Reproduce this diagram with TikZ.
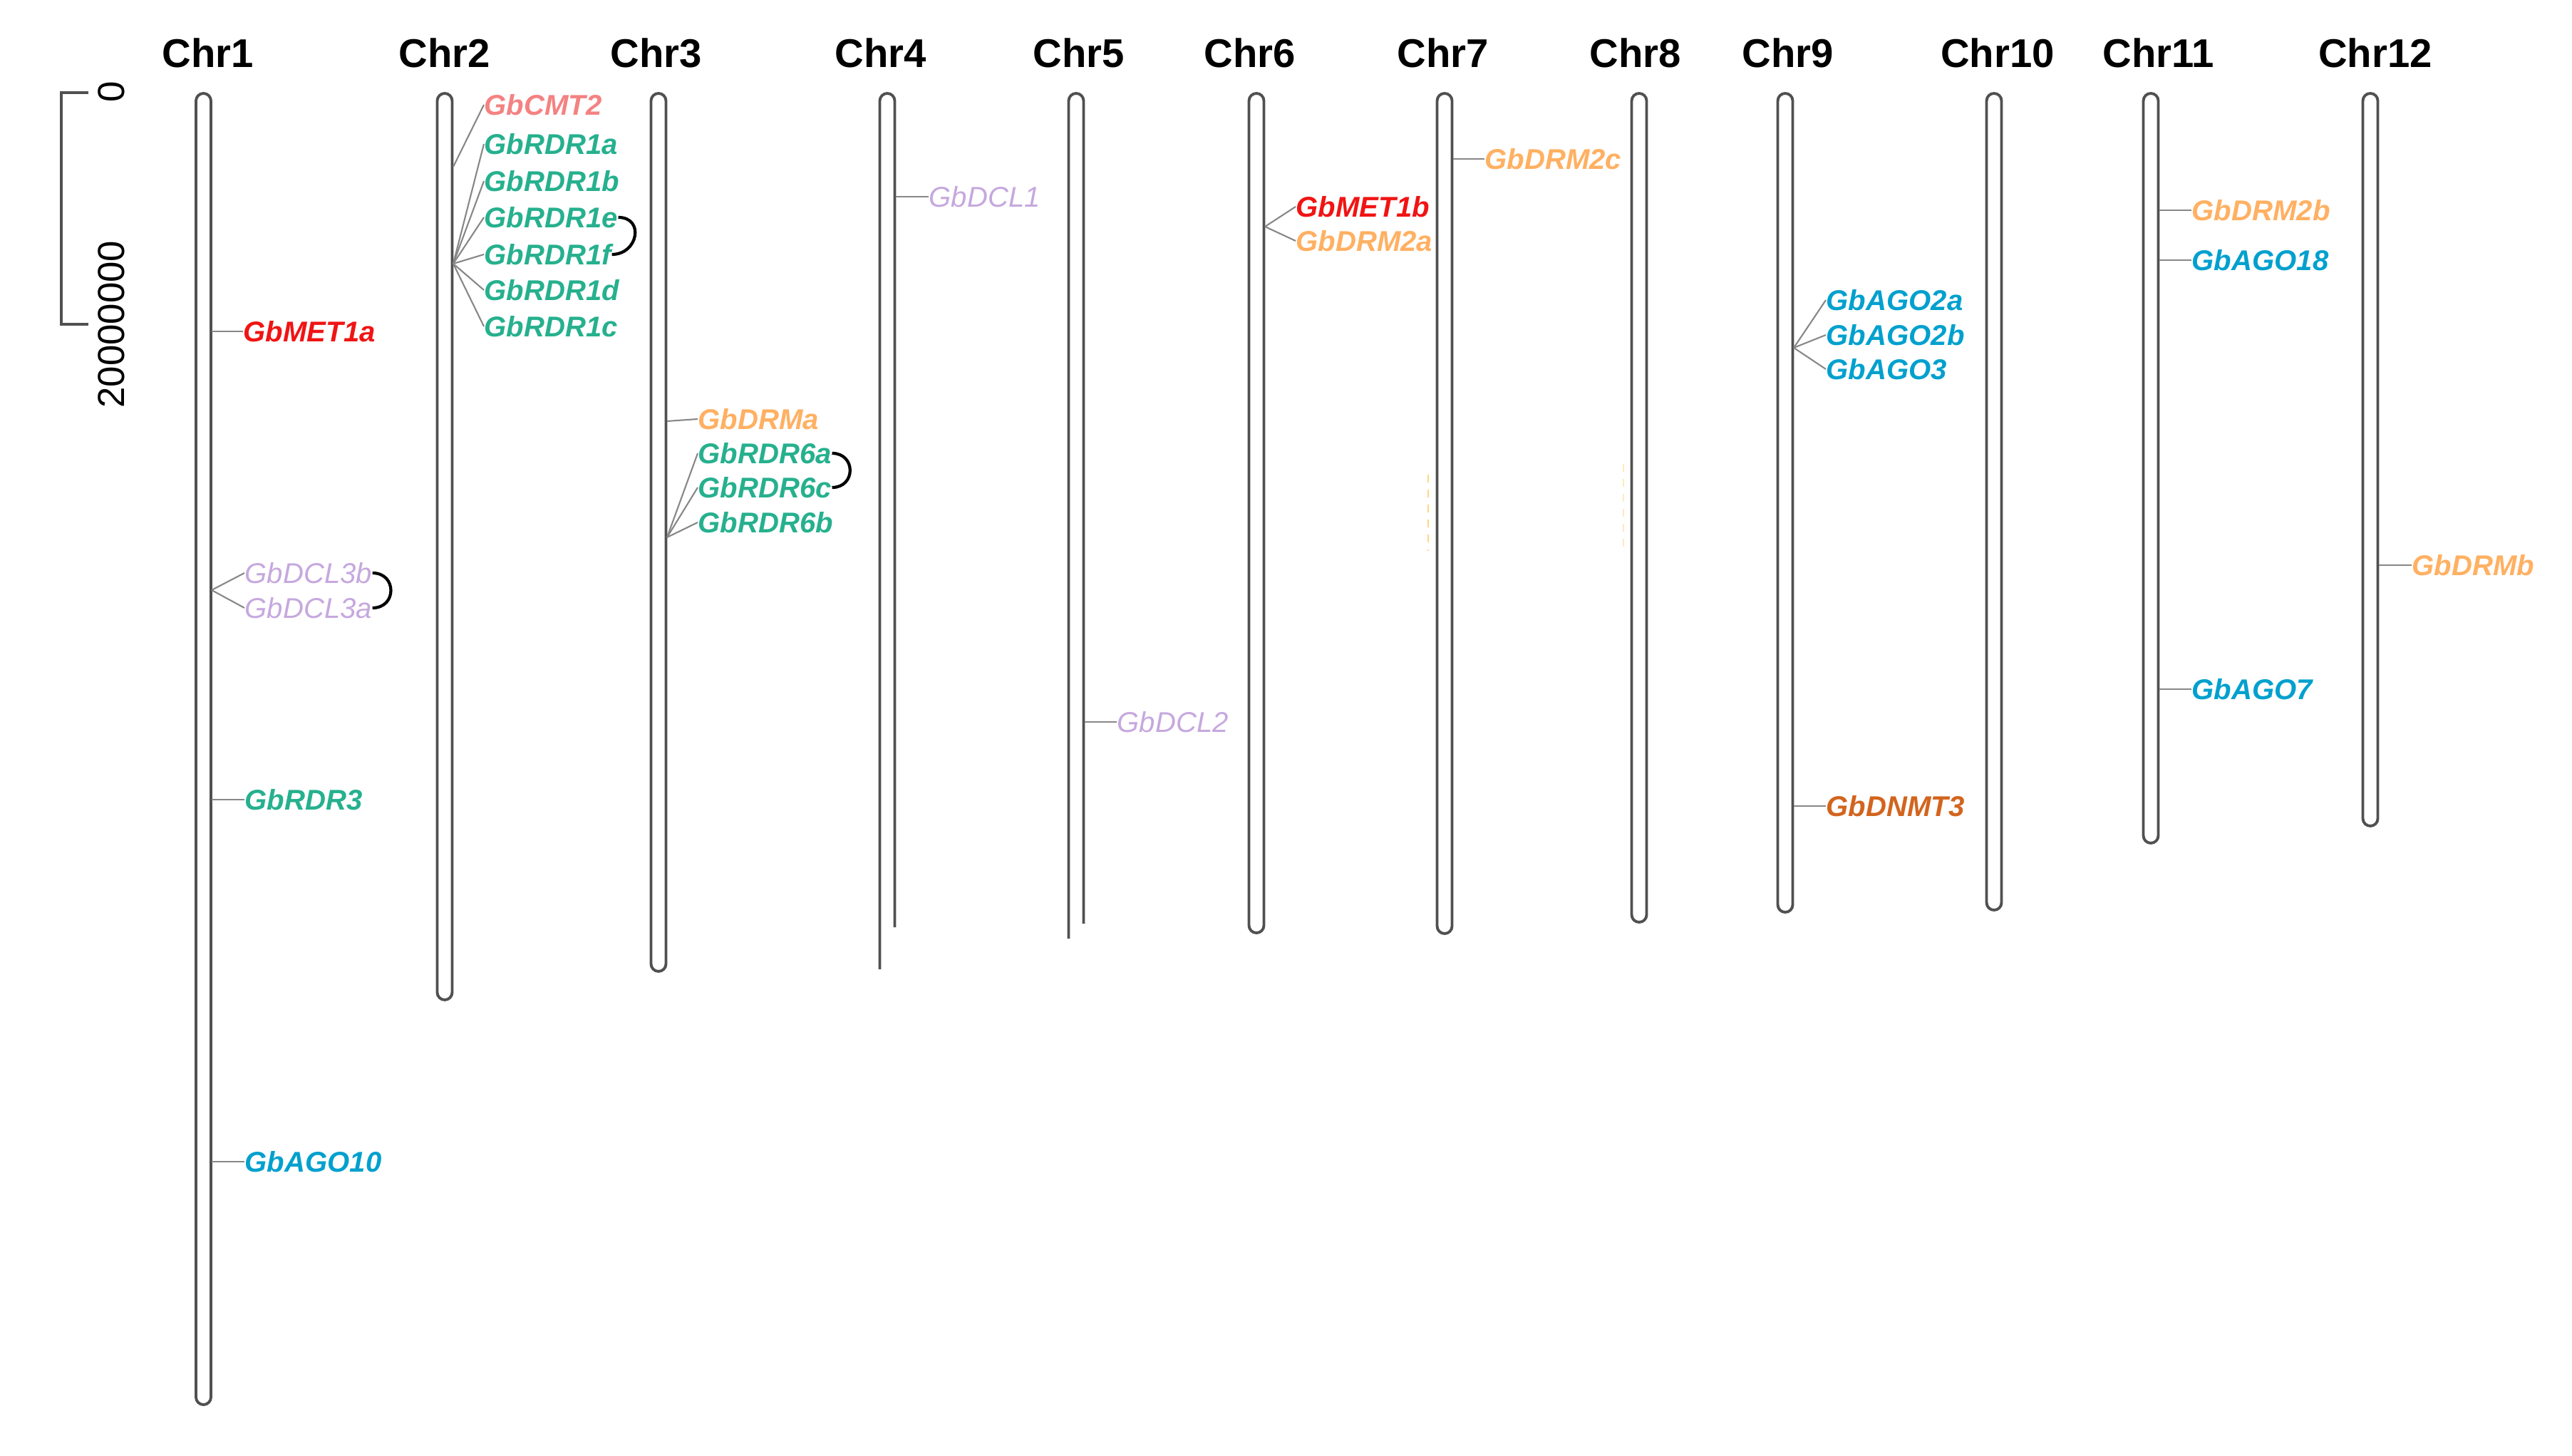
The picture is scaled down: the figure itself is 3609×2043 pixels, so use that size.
\documentclass[tikz,border=0pt]{standalone}
\usepackage{fontspec}
\setmainfont{Liberation Sans}
\definecolor{chrgray}{RGB}{80,80,80}
\definecolor{linkgray}{RGB}{135,135,135}
\definecolor{cmtpink}{RGB}{244,130,130}
\definecolor{rdrteal}{RGB}{38,176,142}
\definecolor{metred}{RGB}{240,20,20}
\definecolor{drmorange}{RGB}{255,176,98}
\definecolor{dclpurple}{RGB}{198,168,222}
\definecolor{agoblue}{RGB}{0,160,206}
\definecolor{dnmtbrown}{RGB}{210,100,30}
\definecolor{faintyellow}{RGB}{255,214,130}
\begin{document}
\begin{tikzpicture}[x=0.01cm,y=-0.01cm,
  chromo/.style={draw=chrgray,line width=1.1pt,fill=white,rounded corners=0.105cm},
  chromoopen/.style={draw=chrgray,line width=1.1pt,rounded corners=0.105cm},
  link/.style={draw=linkgray,line width=0.6pt},
  pair/.style={draw=black,line width=1.2pt,looseness=1.8},
  gene/.style={anchor=west,inner sep=0pt,font=\fontsize{11.4}{12}\selectfont\bfseries\itshape},
  genelight/.style={anchor=west,inner sep=0pt,font=\fontsize{11.4}{12}\selectfont\itshape},
  chrlab/.style={inner sep=0pt,font=\fontsize{16}{17}\selectfont\bfseries},
  scalelab/.style={inner sep=0pt,rotate=90,font=\fontsize{15}{16}\selectfont},
  scalebar/.style={draw=chrgray,line width=1pt},
  faint/.style={draw=faintyellow,line width=0.5pt,dashed}]
\useasboundingbox (0,0) rectangle (3609,2043);

% scale bar
\coordinate (s0a) at (124,130);
\coordinate (s0b) at (86,130);
\coordinate (s1b) at (86,455);
\coordinate (s1a) at (124,455);
\draw[scalebar] (s0a) -- (s0b) -- (s1b) -- (s1a);
\node[scalelab] (sl0) at (156,129) {0};
\node[scalelab] (sl1) at (156,455) {20000000};

% chromosome labels
\node[chrlab] (L1) at (292,74) {Chr1};
\node[chrlab] (L2) at (624,74) {Chr2};
\node[chrlab] (L3) at (921,74) {Chr3};
\node[chrlab] (L4) at (1236,74) {Chr4};
\node[chrlab] (L5) at (1514,74) {Chr5};
\node[chrlab] (L6) at (1754,74) {Chr6};
\node[chrlab] (L7) at (2025,74) {Chr7};
\node[chrlab] (L8) at (2295,74) {Chr8};
\node[chrlab] (L9) at (2509,74) {Chr9};
\node[chrlab] (L10) at (2803,74) {Chr10};
\node[chrlab] (L11) at (3029,74) {Chr11};
\node[chrlab] (L12) at (3333,74) {Chr12};

% chromosomes
\draw[chromo] (275,131) rectangle (296,1971);
\draw[chromo] (613.5,131) rectangle (634.5,1403);
\draw[chromo] (913.5,131) rectangle (934.5,1363);
\draw[chromoopen] (1234.5,1360) -- (1234.5,131) -- (1255.5,131) -- (1255.5,1301);
\draw[chromoopen] (1499.5,1317) -- (1499.5,131) -- (1520.5,131) -- (1520.5,1296);
\draw[chromo] (1752.5,131) rectangle (1773.5,1309);
\draw[chromo] (2016.5,131) rectangle (2037.5,1310);
\draw[chromo] (2289.5,131) rectangle (2310.5,1294);
\draw[chromo] (2494.5,131) rectangle (2515.5,1280);
\draw[chromo] (2787.5,131) rectangle (2808.5,1277);
\draw[chromo] (3007.5,131) rectangle (3028.5,1183);
\draw[chromo] (3315.5,131) rectangle (3336.5,1159);

% faint marks
\coordinate (f7a) at (2004,666); \coordinate (f7b) at (2004,773);
\coordinate (f8a) at (2278,651); \coordinate (f8b) at (2278,768);
\draw[faint] (f7a) -- (f7b);
\draw[faint,opacity=0.5] (f8a) -- (f8b);

% ---- Chr1 ----
\coordinate (c1met) at (297,465);
\coordinate (c1dcl) at (297,828);
\coordinate (c1rdr) at (297,1122);
\coordinate (c1ago) at (297,1630);
\node[gene,text=metred] (met1a) at (341,465) {GbMET1a};
\node[genelight,text=dclpurple] (dcl3b) at (343,804) {GbDCL3b};
\node[genelight,text=dclpurple] (dcl3a) at (343,853) {GbDCL3a};
\node[gene,text=rdrteal] (rdr3) at (343,1122) {GbRDR3};
\node[gene,text=agoblue] (ago10) at (343,1630) {GbAGO10};
\draw[link] (c1met) -- (met1a.west);
\draw[link] (c1dcl) -- (dcl3b.west);
\draw[link] (c1dcl) -- (dcl3a.west);
\draw[link] (c1rdr) -- (rdr3.west);
\draw[link] (c1ago) -- (ago10.west);
\draw[pair] (dcl3b.east) to[out=0,in=0] (dcl3a.east);

% ---- Chr2 ----
\coordinate (c2cmt) at (636,234);
\coordinate (c2rdr) at (636,370);
\node[gene,text=cmtpink] (cmt2) at (679,147) {GbCMT2};
\node[gene,text=rdrteal] (rdr1a) at (679,202) {GbRDR1a};
\node[gene,text=rdrteal] (rdr1b) at (679,254) {GbRDR1b};
\node[gene,text=rdrteal] (rdr1e) at (679,305) {GbRDR1e};
\node[gene,text=rdrteal] (rdr1f) at (679,357) {GbRDR1f};
\node[gene,text=rdrteal] (rdr1d) at (679,407) {GbRDR1d};
\node[gene,text=rdrteal] (rdr1c) at (679,458) {GbRDR1c};
\draw[link] (c2cmt) -- (cmt2.west);
\foreach \g in {rdr1a,rdr1b,rdr1e,rdr1f,rdr1d,rdr1c}
  \draw[link] (c2rdr) -- (\g.west);
\draw[pair] (rdr1e.east) to[out=0,in=0] (rdr1f.east);

% ---- Chr3 ----
\coordinate (c3drm) at (936,591);
\coordinate (c3rdr) at (936,754);
\node[gene,text=drmorange] (drma) at (979,588) {GbDRMa};
\node[gene,text=rdrteal] (rdr6a) at (979,636) {GbRDR6a};
\node[gene,text=rdrteal] (rdr6c) at (979,684) {GbRDR6c};
\node[gene,text=rdrteal] (rdr6b) at (979,733) {GbRDR6b};
\draw[link] (c3drm) -- (drma.west);
\foreach \g in {rdr6a,rdr6c,rdr6b}
  \draw[link] (c3rdr) -- (\g.west);
\draw[pair] (rdr6a.east) to[out=0,in=0] (rdr6c.east);

% ---- Chr4 ----
\coordinate (c4dcl) at (1257,276);
\node[genelight,text=dclpurple] (dcl1) at (1303,276) {GbDCL1};
\draw[link] (c4dcl) -- (dcl1.west);

% ---- Chr5 ----
\coordinate (c5dcl) at (1522,1013);
\node[genelight,text=dclpurple] (dcl2) at (1567,1013) {GbDCL2};
\draw[link] (c5dcl) -- (dcl2.west);

% ---- Chr6 ----
\coordinate (c6) at (1775,318);
\node[gene,text=metred] (met1b) at (1818,290) {GbMET1b};
\node[gene,text=drmorange] (drm2a) at (1818,338) {GbDRM2a};
\draw[link] (c6) -- (met1b.west);
\draw[link] (c6) -- (drm2a.west);

% ---- Chr7 ----
\coordinate (c7) at (2039,223);
\node[gene,text=drmorange] (drm2c) at (2083,223) {GbDRM2c};
\draw[link] (c7) -- (drm2c.west);

% ---- Chr9 ----
\coordinate (c9ago) at (2517,488);
\coordinate (c9dnmt) at (2517,1131);
\node[gene,text=agoblue] (ago2a) at (2562,421) {GbAGO2a};
\node[gene,text=agoblue] (ago2b) at (2562,470) {GbAGO2b};
\node[gene,text=agoblue] (ago3) at (2562,518) {GbAGO3};
\node[gene,text=dnmtbrown] (dnmt3) at (2562,1131) {GbDNMT3};
\foreach \g in {ago2a,ago2b,ago3}
  \draw[link] (c9ago) -- (\g.west);
\draw[link] (c9dnmt) -- (dnmt3.west);

% ---- Chr11 ----
\coordinate (c11a) at (3030,295);
\coordinate (c11b) at (3030,365);
\coordinate (c11c) at (3030,967);
\node[gene,text=drmorange] (drm2b) at (3075,295) {GbDRM2b};
\node[gene,text=agoblue] (ago18) at (3075,365) {GbAGO18};
\node[gene,text=agoblue] (ago7) at (3075,967) {GbAGO7};
\draw[link] (c11a) -- (drm2b.west);
\draw[link] (c11b) -- (ago18.west);
\draw[link] (c11c) -- (ago7.west);

% ---- Chr12 ----
\coordinate (c12) at (3338,793);
\node[gene,text=drmorange] (drmb) at (3384,793) {GbDRMb};
\draw[link] (c12) -- (drmb.west);
\end{tikzpicture}
\end{document}
